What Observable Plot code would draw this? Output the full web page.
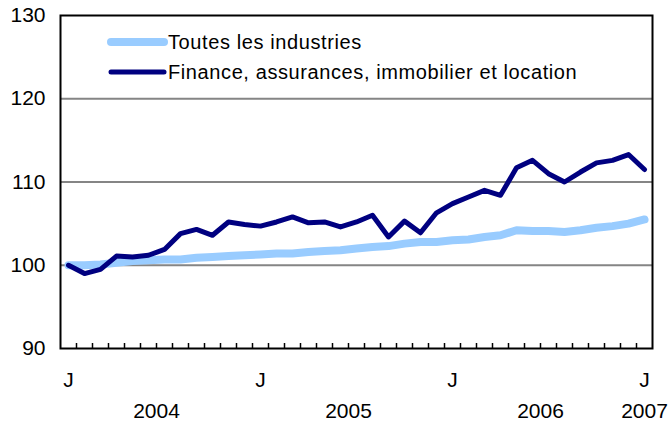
<!DOCTYPE html>
<html>
<head>
<meta charset="utf-8">
<script src="https://cdn.jsdelivr.net/npm/d3@7"></script>
<script src="https://cdn.jsdelivr.net/npm/@observablehq/plot@0.6"></script>
<style>
  html, body { margin: 0; padding: 0; background: #fff; }
  #chart { position: relative; width: 669px; height: 437px; }
  svg { font-family: "Liberation Sans", Arial, Helvetica, sans-serif; }
</style>
</head>
<body>
<div id="chart"></div>
<script>
// Monthly index, January 2004 = 100 (Jan 2004 .. Jan 2007)
const seriesNames = ["Toutes les industries", "Finance, assurances, immobilier et location"];
const allIndustries = [
  100.0, 100.0, 100.1, 100.3, 100.5, 100.6, 100.7, 100.7, 100.9, 101.0, 101.1, 101.2,
  101.3, 101.4, 101.4, 101.6, 101.7, 101.8, 102.0, 102.2, 102.3, 102.6, 102.8, 102.8,
  103.0, 103.1, 103.4, 103.6, 104.2, 104.1, 104.1, 104.0, 104.2, 104.5, 104.7, 105.0,
  105.5
];
const finance = [
  100.0, 99.0, 99.5, 101.1, 101.0, 101.2, 101.9, 103.8, 104.3, 103.6, 105.2, 104.9,
  104.7, 105.2, 105.8, 105.1, 105.2, 104.6, 105.2, 106.0, 103.4, 105.3, 103.9, 106.3,
  107.4, 108.2, 109.0, 108.4, 111.7, 112.6, 111.0, 110.0, 111.2, 112.3, 112.6, 113.3,
  111.5
];
const yTicks = [90, 100, 110, 120, 130];
const gridValues = [100, 110, 120];
const monthLabelIndex = [0, 12, 24, 36];
const monthLabels = ["J", "J", "J", "J"];
const yearLabels = ["2004", "2005", "2006", "2007"];
const yearLabelIndex = [5.5, 17.5, 29.5, 36];

const n = finance.length;
const rowsAll = allIndustries.map((v, i) => ({i, v}));
const rowsFin = finance.map((v, i) => ({i, v}));
const tickBounds = d3.range(0, n - 1).map(i => i + 0.5);

const lightBlue = "#99ccff";
const navy = "#000080";
const font = "'Liberation Sans', Arial, Helvetica, sans-serif";

const plot = Plot.plot({
  width: 669,
  height: 437,
  marginLeft: 60,
  marginRight: 17,
  marginTop: 15,
  marginBottom: 89,
  style: {fontFamily: font, fontSize: "21px", color: "#000", background: "#fff"},
  x: {type: "linear", domain: [-0.5, n - 0.5], axis: null},
  y: {domain: [90, 130], axis: null},
  marks: [
    Plot.ruleY(gridValues, {stroke: "#858585", strokeWidth: 2}),
    Plot.axisY(yTicks, {anchor: "left", tickSize: 0, tickPadding: 15, fontSize: 21, letterSpacing: 0.2, label: null}),
    Plot.axisX(tickBounds, {anchor: "bottom", tickSize: -5, tickFormat: () => "", stroke: "#000", strokeWidth: 1.5, label: null}),
    Plot.axisX(monthLabelIndex, {anchor: "bottom", tickSize: 0, tickPadding: 24, tickFormat: (d) => monthLabels[monthLabelIndex.indexOf(d)], fontSize: 21, label: null}),
    Plot.text(yearLabels, {x: (d, k) => yearLabelIndex[k], text: d => d, frameAnchor: "bottom", lineAnchor: "top", dy: 55, fontSize: 21, letterSpacing: 0.2, fill: "#000"}),
    Plot.line(rowsAll, {x: "i", y: "v", stroke: lightBlue, strokeWidth: 8, strokeLinecap: "round", strokeLinejoin: "round"}),
    Plot.line(rowsFin, {x: "i", y: "v", stroke: navy, strokeWidth: 5, strokeLinejoin: "round", strokeLinecap: "round"}),
    Plot.frame({stroke: "#000", strokeWidth: 2})
  ]
});

// Legend inside the plot area (drawn in the plot's SVG)
const svg = d3.select(plot);
const legend = svg.append("g")
  .attr("font-family", font)
  .attr("font-size", 20)
  .attr("letter-spacing", 0.6)
  .attr("text-anchor", "start");
const legendItems = [
  {name: seriesNames[0], color: lightBlue, width: 8, y: 42},
  {name: seriesNames[1], color: navy, width: 5, y: 72}
];
legendItems.forEach(it => {
  legend.append("line")
    .attr("x1", 111).attr("x2", 164).attr("y1", it.y).attr("y2", it.y)
    .attr("stroke", it.color).attr("stroke-width", it.width).attr("stroke-linecap", "round");
  legend.append("text")
    .attr("x", 168).attr("y", it.y).attr("dy", "0.35em")
    .attr("text-anchor", "start")
    .attr("fill", "#000")
    .text(it.name);
});

document.getElementById("chart").appendChild(plot);
</script>
</body>
</html>
